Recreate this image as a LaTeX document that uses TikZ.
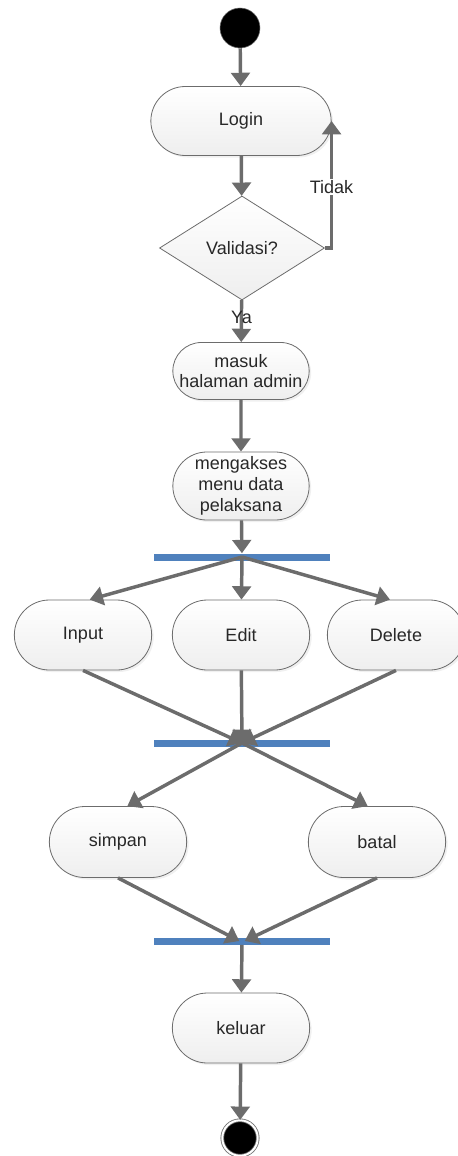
\documentclass[tikz,border=0pt]{standalone}
\usepackage{fontspec}
\setmainfont{Liberation Sans}
\usetikzlibrary{shapes.misc,shapes.geometric,arrows.meta,shadows}

\definecolor{linegray}{RGB}{108,108,108}
\definecolor{txtgray}{RGB}{40,40,40}
\definecolor{barblue}{RGB}{79,129,189}

\tikzset{
  act/.style={rounded rectangle, draw=linegray, line width=0.6pt,
    top color=white, bottom color=gray!13, text=txtgray,
    align=center, font=\fontsize{13.5}{15.5}\selectfont,
    minimum width=105pt, minimum height=52.5pt, inner sep=1pt,
    drop shadow={opacity=0.12, shadow xshift=1.5pt, shadow yshift=-1.5pt}},
  decide/.style={diamond, draw=linegray, line width=0.6pt,
    top color=white, bottom color=gray!13, text=txtgray,
    font=\fontsize{13.5}{15.5}\selectfont, inner sep=0pt,
    minimum width=123.75pt, minimum height=78pt},
  bar/.style={rectangle, fill=barblue, inner sep=0pt,
    minimum width=132pt, minimum height=5.25pt},
  startdot/.style={circle, fill=black, draw=linegray, line width=0.4pt,
    minimum size=30pt, inner sep=0pt},
  enddot/.style={circle, fill=black, draw=linegray, line width=0.6pt,
    double=white, double distance=1.5pt, minimum size=26.6pt, inner sep=0pt},
  flow/.style={draw=linegray, line width=2.6pt,
    -{Triangle[length=10pt,width=14pt]}},
  lbl/.style={text=txtgray, font=\fontsize{13.5}{15.5}\selectfont, inner sep=1pt}
}

\begin{document}
\begin{tikzpicture}[x=0.75pt,y=-0.75pt]
  \useasboundingbox (0,0) rectangle (457,1156);

  % nodes
  \node[startdot] (start) at (240,28) {};
  \node[act, minimum width=137.25pt, minimum height=51.75pt] (login) at (241,121) {Login};
  \node[decide] (valid) at (242,248) {Validasi?};
  \node[act, minimum width=104.25pt, minimum height=42.75pt] (masuk) at (241,371) {masuk\\halaman admin};
  \node[act, minimum width=104.25pt, minimum height=51pt] (akses) at (241,486) {mengakses\\menu data\\pelaksana};
  \node[bar] (fork1) at (242,557) {};
  \node[act] (input) at (83,635) {Input};
  \node[act] (edit) at (241,635) {Edit};
  \node[act] (delete) at (396,635) {Delete};
  \node[bar] (join1) at (242,743) {};
  \node[act, minimum height=53.25pt] (simpan) at (118,842) {simpan};
  \node[act, minimum height=53.25pt] (batal) at (377,842) {batal};
  \node[bar] (join2) at (242,941) {};
  \node[act] (keluar) at (241,1028) {keluar};
  \node[enddot] (finish) at (240,1138) {};

  % connectors
  \draw[flow] (start) -- (login);
  \draw[flow] (login) -- (valid);
  \draw[flow] (valid.east) -| node[lbl, pos=0.74, fill=white] {Tidak} (login.east);
  \draw[flow] (valid) -- node[lbl, pos=0.42] {Ya} (masuk);
  \draw[flow] (masuk) -- (akses);
  \draw[flow] (akses) -- (fork1);
  \draw[flow] (fork1.center) -- ([xshift=5pt]input.north);
  \draw[flow] (fork1.center) -- (edit);
  \draw[flow] (fork1.center) -- ([xshift=-4.5pt]delete.north);
  \draw[flow] (input.south) -- (join1.center);
  \draw[flow] (edit) -- (join1.center);
  \draw[flow] (delete.south) -- (join1.center);
  \draw[flow] (join1.center) -- ([xshift=7pt]simpan.north);
  \draw[flow] (join1.center) -- ([xshift=-7pt]batal.north);
  \draw[flow] (simpan.south) -- ([xshift=-2pt]join2.center);
  \draw[flow] (batal.south) -- ([xshift=2pt]join2.center);
  \draw[flow] (join2) -- (keluar);
  \draw[flow] (keluar) -- (finish);
\end{tikzpicture}
\end{document}
